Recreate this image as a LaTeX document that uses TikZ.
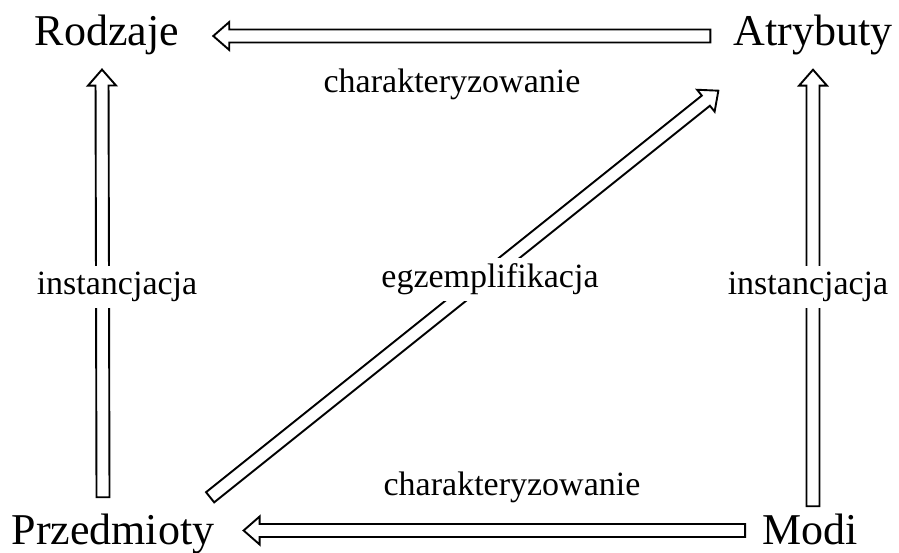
\documentclass[tikz,border=0pt]{standalone}
\usepackage{fontspec}
\setmainfont{Liberation Serif}
\usetikzlibrary{calc}

% dimensions of the outlined block arrows
\def\hahead{16pt}
\def\hahalf{14pt}
\def\hashaft{6.5pt}

% outlined block arrow from #1 (tail) to #2 (tip)
\newcommand\hollowarrow[2]{%
  \coordinate (ha-s) at #1;
  \coordinate (ha-e) at #2;
  \coordinate (ha-b) at ($(ha-e)!\hahead!(ha-s)$);
  \draw[blockarrow]
    ($(ha-s)!\hashaft!90:(ha-e)$) --
    ($(ha-b)!\hashaft!90:(ha-e)$) --
    ($(ha-b)!\hahalf!90:(ha-e)$) --
    (ha-e) --
    ($(ha-b)!\hahalf!-90:(ha-e)$) --
    ($(ha-b)!\hashaft!-90:(ha-e)$) --
    ($(ha-s)!\hashaft!-90:(ha-e)$) -- cycle;
}

\begin{document}
\begin{tikzpicture}[x=1pt, y=1pt,
  term/.style={font=\fontsize{44}{48}\selectfont, inner sep=0pt, anchor=base},
  rel/.style={font=\fontsize{34}{38}\selectfont, fill=white, inner sep=6pt, anchor=base},
  blockarrow/.style={draw=black, fill=white, line width=1.9pt, line join=miter}]
\useasboundingbox (0,0) rectangle (899,552);

% the four terms
\node[term] (rod) at (107,506) {Rodzaje};
\node[term] (atr) at (813,506) {Atrybuty};
\node[term] (prz) at (113,8) {Przedmioty};
\node[term] (mod) at (810,8) {Modi};

% relations
\hollowarrow{($(atr.base west)+(-23,10)$)}{($(rod.base east)+(34,10)$)}
\hollowarrow{($(prz.north)+(-10,16)$)}{($(rod.south)+(-5,-14)$)}
\hollowarrow{($(mod.north)+(3,7)$)}{($(atr.south)+(0,-14)$)}
\hollowarrow{($(mod.base west)+(-17,13.5)$)}{($(prz.base east)+(29,13.5)$)}
\hollowarrow{($(prz.north east)+(-4.5,16)$)}{($(atr.south west)+(-15,-35)$)}

% relation labels
\node[rel] (l-top) at (452,459) {charakteryzowanie};
\node[rel] (l-bot) at (512,57) {charakteryzowanie};
\node[rel] (l-left) at (117,257) {instancjacja};
\node[rel] (l-right) at (808,257) {instancjacja};
\node[rel] (l-diag) at (490,264) {egzemplifikacja};
\end{tikzpicture}
\end{document}
